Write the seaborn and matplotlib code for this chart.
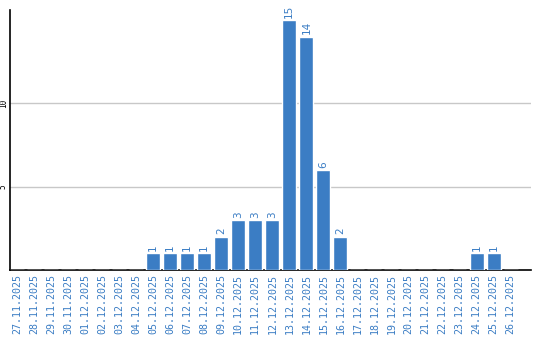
import matplotlib
matplotlib.use("Agg")
import matplotlib.pyplot as plt
import seaborn as sns
import pandas as pd

dates = ["27.11.2025", "28.11.2025", "29.11.2025", "30.11.2025", "01.12.2025",
         "02.12.2025", "03.12.2025", "04.12.2025", "05.12.2025", "06.12.2025",
         "07.12.2025", "08.12.2025", "09.12.2025", "10.12.2025", "11.12.2025",
         "12.12.2025", "13.12.2025", "14.12.2025", "15.12.2025", "16.12.2025",
         "17.12.2025", "18.12.2025", "19.12.2025", "20.12.2025", "21.12.2025",
         "22.12.2025", "23.12.2025", "24.12.2025", "25.12.2025", "26.12.2025"]
counts = [0, 0, 0, 0, 0, 0, 0, 0, 1, 1, 1, 1, 2, 3, 3, 3, 15, 14, 6, 2,
          0, 0, 0, 0, 0, 0, 0, 1, 1, 0]
yticks = [5, 10]

bar_color = "#3b7dc4"
text_color = "#3b7dc4"

sns.set_theme(style="white")
df = pd.DataFrame({"date": dates, "count": counts})

fig = plt.figure(figsize=(5.4, 3.4), dpi=100)
ax = fig.add_axes([10/540, 70/340, 521/540, 260/340])
sns.barplot(data=df, x="date", y="count", color=bar_color, width=0.82,
            saturation=1, ax=ax, zorder=3)

ax.set_xlim(-0.41, 30.2)
ax.set_ylim(0, 15.6)
ax.set_yticks(yticks)
ax.set_yticklabels([str(v) for v in yticks], rotation=90, va="center",
                   fontsize=5.5, family="DejaVu Sans Mono", color="black")
ax.yaxis.grid(True, color="#c8c8c8", linewidth=1, zorder=0)
ax.xaxis.grid(False)
ax.set_xticks(range(len(dates)))
ax.set_xticklabels(dates, rotation=90, fontsize=7.2, family="DejaVu Sans Mono",
                   color=text_color)
ax.tick_params(axis="x", length=0, pad=3)
ax.tick_params(axis="y", length=0, pad=1.5)
ax.set_xlabel("")
ax.set_ylabel("")
for s in ["top", "right"]:
    ax.spines[s].set_visible(False)
for s in ["left", "bottom"]:
    ax.spines[s].set_color("black")
    ax.spines[s].set_linewidth(1.2)

for i, v in enumerate(counts):
    if v > 0:
        ax.text(i, v + 0.15, str(v), rotation=90, ha="center", va="bottom",
                fontsize=7.5, color=text_color)

fig.savefig("out.png", dpi=100)
